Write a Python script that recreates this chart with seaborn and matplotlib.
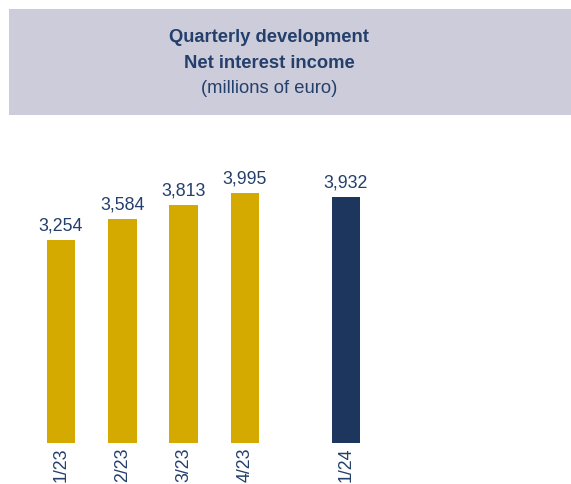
import matplotlib
matplotlib.use("Agg")
import matplotlib.pyplot as plt
from matplotlib.patches import Rectangle
import seaborn as sns
import pandas as pd

# ---- data ----
quarters = ["1/23", "2/23", "3/23", "4/23", "1/24"]
values = [3254, 3584, 3813, 3995, 3932]
years = ["2023", "2023", "2023", "2023", "2024"]
title_lines = ["Quarterly development", "Net interest income", "(millions of euro)"]

# ---- layout / style ----
x_pos = [0, 1, 2, 3, 4.65]
palette = {"2023": "#D4AA00", "2024": "#1C365E"}
text_color = "#243F6B"
box_color = "#CDCCDA"

sns.set_theme(style="white")
plt.rcParams["font.family"] = ["Liberation Sans", "DejaVu Sans"]

W, H = 571, 484
fig = plt.figure(figsize=(W / 100, H / 100), dpi=100)

# title box
fig.patches.append(Rectangle((9 / W, 1 - 115 / H), (W - 9) / W, 106 / H,
                             transform=fig.transFigure, facecolor=box_color,
                             edgecolor="none", zorder=0))
cx = 269 / W
fig.text(cx, 1 - 38 / H, title_lines[0], ha="center", va="center",
         fontsize=13.2, fontweight="bold", color=text_color)
fig.text(cx, 1 - 63 / H, title_lines[1], ha="center", va="center",
         fontsize=13.2, fontweight="bold", color=text_color)
fig.text(cx, 1 - 88 / H, title_lines[2], ha="center", va="center",
         fontsize=13.2, color=text_color)

ax = fig.add_axes([0, 41 / H, 1, 313 / H])
df = pd.DataFrame({"pos": x_pos, "value": values, "year": years})
sns.barplot(data=df, x="pos", y="value", hue="year", palette=palette,
            native_scale=True, dodge=False, width=0.465, legend=False,
            saturation=1, ax=ax, edgecolor="none")

for cont in ax.containers:
    labs = [f"{int(round(b.get_height())):,}" for b in cont]
    ax.bar_label(cont, labels=labs, padding=4, fontsize=12.8, color=text_color)

ax.set_xlim(-61 / 61.3, (W - 61) / 61.3)
ax.set_ylim(0, 313 / 0.0625)
ax.set_xticks(x_pos)
ax.set_xticklabels(quarters, rotation=90, fontsize=12.8, color=text_color,
                   va="top")
ax.tick_params(axis="x", length=0, pad=3)
ax.set_yticks([])
ax.set_xlabel("")
ax.set_ylabel("")
for s in ax.spines.values():
    s.set_visible(False)
ax.patch.set_alpha(0)

fig.savefig("out.png", dpi=100)
